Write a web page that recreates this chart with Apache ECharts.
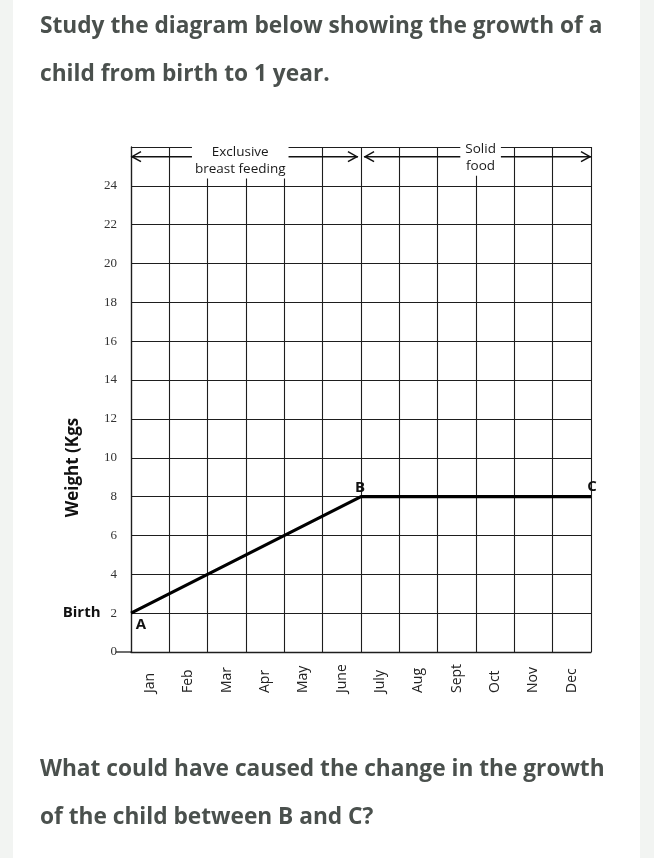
<!DOCTYPE html>
<html>
<head>
<meta charset="utf-8">
<script src="https://cdn.jsdelivr.net/npm/echarts@6/dist/echarts.min.js"></script>
<style>
html,body{margin:0;padding:0;background:#f2f4f2;}
#c{width:654px;height:858px;}
</style>
</head>
<body>
<div id="c"></div>
<script>
// ---- data ----
const months = ['Jan','Feb','Mar','Apr','May','June','July','Aug','Sept','Oct','Nov','Dec'];
const pointMonths = [0, 6, 12];      // month boundary (0 = start of Jan)
const pointWeights = [2, 8, 8];      // kg
const pointNames = ['A', 'B', 'C'];
const yMin = 0, yMax = 26, yStep = 2;
const titleLines = ['Study the diagram below showing the growth of a', 'child from birth to 1 year.'];
const questionLines = ['What could have caused the change in the growth', 'of the child between B and C?'];

const chart = echarts.init(document.getElementById('c'), null, {renderer: 'canvas'});
const ink = '#1e1e1e';
const textCol = '#4a504d';
const headFont = 'Open Sans';

const labelCfg = {
  A: {position: 'bottom', offset: [10, 2], distance: 2},
  B: {position: 'top', offset: [-1, 0], distance: 1},
  C: {position: 'top', offset: [1, 0], distance: 2}
};

const lineData = pointMonths.map((m, i) => ({
  value: [m, pointWeights[i]],
  label: Object.assign({
    show: true, formatter: pointNames[i], fontSize: 15, fontWeight: 'bold',
    fontFamily: 'Open Sans', color: '#111'
  }, labelCfg[pointNames[i]])
}));

const option = {
  animation: false,
  backgroundColor: '#f2f4f2',
  grid: {left: 131, right: 63, top: 147, bottom: 206, containLabel: false},
  xAxis: [{
    type: 'category', data: months, boundaryGap: true,
    axisLine: {show: true, lineStyle: {color: ink, width: 1.3}},
    axisTick: {show: false},
    splitLine: {show: true, lineStyle: {color: ink, width: 1.1}},
    axisLabel: {
      rotate: 90, align: 'left', verticalAlign: 'middle', margin: 41,
      fontSize: 14, fontFamily: 'Open Sans', color: '#222', interval: 0
    },
    z: 5
  }, {
    type: 'value', min: 0, max: 12, show: false
  }],
  yAxis: {
    type: 'value', min: yMin, max: yMax, interval: yStep,
    axisLine: {show: true, lineStyle: {color: ink, width: 1.3}},
    axisTick: {show: false},
    splitLine: {show: true, lineStyle: {color: ink, width: 1.1}},
    axisLabel: {
      margin: 14, align: 'right',
      formatter: v => v >= 26 ? '' : (v === 2 ? '{b|Birth}{n|' + v + '}' : '{n|' + v + '}'),
      rich: {
        n: {fontSize: 13, fontFamily: 'Liberation Serif', color: '#333'},
        b: {fontSize: 15, fontWeight: 'bold', fontFamily: 'Open Sans', color: '#111', padding: [0, 10, 0, 0]}
      }
    },
    z: 5
  },
  series: [{
    type: 'line', xAxisIndex: 1, yAxisIndex: 0,
    data: lineData, symbol: 'circle', symbolSize: 0, showSymbol: true,
    itemStyle: {color: '#000'},
    lineStyle: {color: '#000', width: 3.2},
    z: 10
  }]
};
chart.setOption(option);

// ---- annotations positioned through the chart's own scales ----
function px(x, y) { return chart.convertToPixel({xAxisIndex: 1, yAxisIndex: 0}, [x, y]); }

const arrowY = 25.5;
const arrows = [[0, 5.92], [6.08, 12]];
const g = [];
// white page card
g.push({type: 'rect', z: -10, silent: true, shape: {x: 13, y: 0, width: 627, height: 858}, style: {fill: '#fff'}});
arrows.forEach(([a, b]) => {
  const p1 = px(a, arrowY), p2 = px(b, arrowY);
  g.push({type: 'line', z: 50, shape: {x1: p1[0], y1: p1[1], x2: p2[0], y2: p2[1]}, style: {stroke: '#111', lineWidth: 1.5}});
  g.push({type: 'polyline', z: 50, shape: {points: [[p1[0] + 10, p1[1] - 5], [p1[0] + 1, p1[1]], [p1[0] + 10, p1[1] + 5]]}, style: {stroke: '#111', lineWidth: 1.5, fill: null}});
  g.push({type: 'polyline', z: 50, shape: {points: [[p2[0] - 10, p2[1] - 5], [p2[0] - 1, p2[1]], [p2[0] - 10, p2[1] + 5]]}, style: {stroke: '#111', lineWidth: 1.5, fill: null}});
});
const t1 = px(2.85, 25.3);
g.push({type: 'text', z: 60, x: t1[0], y: t1[1], style: {
  text: 'Exclusive\nbreast feeding', align: 'center', verticalAlign: 'middle',
  fontSize: 13.5, fontFamily: 'Open Sans', fill: '#1a1a1a', lineHeight: 17,
  backgroundColor: '#fff', padding: [1, 3, 1, 3]
}});
const t2 = px(9.12, 25.45);
g.push({type: 'text', z: 60, x: t2[0], y: t2[1], style: {
  text: 'Solid\nfood', align: 'center', verticalAlign: 'middle',
  fontSize: 13.5, fontFamily: 'Open Sans', fill: '#1a1a1a', lineHeight: 17,
  backgroundColor: '#fff', padding: [1, 5, 1, 5]
}});
// crop edge of the scanned figure
g.push({type: 'rect', z: 70, silent: true, shape: {x: 13, y: 100, width: 627, height: 43}, style: {fill: '#fff'}});
// dash at zero
const z0 = px(0, 0);
g.push({type: 'line', z: 50, shape: {x1: z0[0] - 15, y1: z0[1], x2: z0[0], y2: z0[1]}, style: {stroke: ink, lineWidth: 1.3}});
// y axis title
const yt = px(0, 9.5);
g.push({type: 'text', z: 60, x: 73, y: yt[1], rotation: Math.PI / 2, style: {
  text: 'Weight (Kgs', align: 'center', verticalAlign: 'middle',
  fontSize: 17, fontWeight: 'bold', fontFamily: 'Open Sans', fill: '#111'
}});
// heading + question
titleLines.forEach((t, i) => g.push({type: 'text', z: 80, x: 40, y: 27 + i * 48, style: {
  text: t, align: 'left', verticalAlign: 'middle', fontSize: 22.7, fontWeight: 'bold', fontFamily: headFont, fill: textCol
}}));
questionLines.forEach((t, i) => g.push({type: 'text', z: 80, x: 40, y: 770 + i * 48, style: {
  text: t, align: 'left', verticalAlign: 'middle', fontSize: 22.7, fontWeight: 'bold', fontFamily: headFont, fill: textCol
}}));
chart.setOption({graphic: {elements: g}});
</script>
</body>
</html>
